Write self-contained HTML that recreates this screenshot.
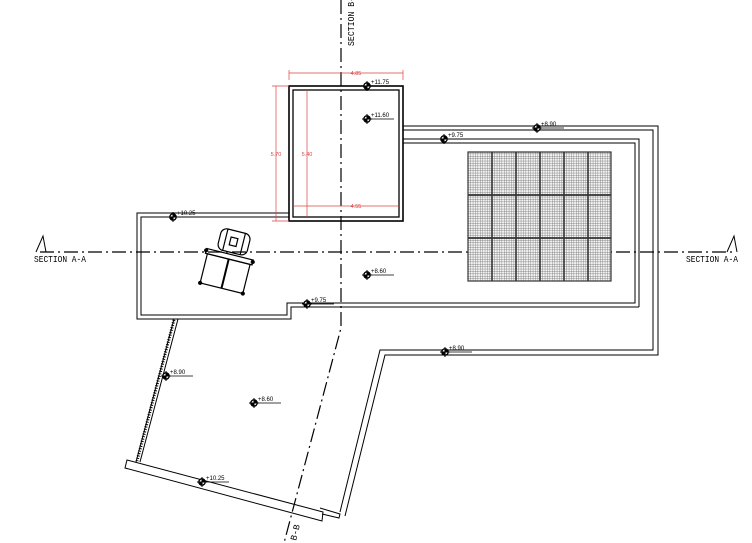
<!DOCTYPE html>
<html><head><meta charset="utf-8"><style>
html,body{margin:0;padding:0;background:#fff;}
svg{display:block;}
text{font-family:"Liberation Sans",sans-serif;}
</style></head><body>
<svg width="752" height="543" viewBox="0 0 752 543" xmlns="http://www.w3.org/2000/svg">
<defs>
<pattern id="grid" width="2.4" height="2.4" patternUnits="userSpaceOnUse">
<rect width="2.4" height="2.4" fill="#f4f4f4"/>
<path d="M0 0H2.4M0 0V2.4" stroke="#666" stroke-width="0.7"/>
</pattern>
<g id="lv">
<circle cx="0" cy="0" r="3.2" fill="#fff" stroke="#000" stroke-width="1.3"/>
<path d="M-5 0H5M0 -5V5" stroke="#000" stroke-width="1"/>
<path d="M0 -3A3 3 0 0 1 3 0L0 0Z M0 3A3 3 0 0 1 -3 0L0 0Z" fill="#000"/>
<line x1="3" y1="0" x2="27" y2="0" stroke="#000" stroke-width="0.8"/>
</g>
</defs>

<g stroke="#000" stroke-width="1.2" fill="none" stroke-dasharray="14,4,2,4">
<line x1="40" y1="252" x2="735" y2="252"/>
<path d="M341 0 V328 L284 543"/>
</g>

<g stroke="#000" stroke-width="1" fill="none">
<path d="M36 252 L43 236 L46 252"/>
<path d="M727 252 L734 236 L737 252"/>
<rect x="289" y="86" width="114" height="135" stroke-width="1.6"/>
<rect x="293" y="90" width="106" height="127" stroke-width="1.3"/>
<path d="M289 213 H137 V319 H291 V307 H639"/>
<path d="M289 217 H141 V315 H287 V303 H635 V143 H403"/>
<path d="M639 307 V139 H403"/>
<path d="M403 126 H658 V355 H385 L345 516"/>
<path d="M403 130 H653 V350 H380 L340 512"/>
<path d="M178 319 L140 462"/>
<path d="M174 319 L136 462"/>
<path d="M127 460 L323 512 L322 521 L125 468 Z"/>
<path d="M320 508 L340 514 L339 518 L322 514"/>
</g>
<path d="M174 320 L137 461" stroke="#000" stroke-width="3" stroke-dasharray="1,1.5" fill="none"/>

<g stroke="#333" stroke-width="1.2">
<rect x="468" y="152" width="143" height="129" fill="url(#grid)"/>
<path d="M492 152V281M516 152V281M540 152V281M564 152V281M588 152V281" stroke-width="1.6"/>
<path d="M468 195H611M468 238H611" stroke-width="1.8"/>
</g>

<g stroke="#d44" stroke-width="0.7" fill="none">
<path d="M289 73H403M289 70V80M403 70V80"/>
<path d="M276 86V221M272 86H289M272 221H289"/>
<path d="M307 90V217"/>
<path d="M293 206H399"/>
</g>
<g font-size="5.5" text-anchor="middle">
<text x="356" y="75" fill="#d44">4.85</text>
<text x="276" y="156" fill="#d44">5.70</text>
<text x="307" y="156" fill="#d44">5.40</text>
<text x="356" y="208" fill="#d44">4.55</text>
</g>

<g transform="translate(228,262) rotate(14)" stroke="#000" fill="none" stroke-width="1.2">
<rect x="-14" y="-32" width="30" height="22" rx="6"/>
<path d="M-8 -32V-10M10 -32V-10"/>
<rect x="-3" y="-25" width="7" height="8"/>
<rect x="-24" y="-8" width="48" height="5"/>
<rect x="-22" y="-3" width="44" height="30"/>
<path d="M0 -3V27" stroke-width="2"/>
<circle cx="-24" cy="-6" r="1.5" fill="#000"/><circle cx="24" cy="-6" r="1.5" fill="#000"/>
<circle cx="-22" cy="27" r="1.5" fill="#000"/><circle cx="22" cy="27" r="1.5" fill="#000"/>
</g>

<use href="#lv" x="367" y="86"/><use href="#lv" x="367" y="119"/>
<use href="#lv" x="444" y="139"/><use href="#lv" x="537" y="128"/>
<use href="#lv" x="173" y="217"/><use href="#lv" x="367" y="275"/>
<use href="#lv" x="307" y="304"/><use href="#lv" x="445" y="352"/>
<use href="#lv" x="166" y="376"/><use href="#lv" x="254" y="403"/>
<use href="#lv" x="202" y="482"/>
<g font-size="6" fill="#000">
<text x="371" y="84">+11.75</text><text x="371" y="117">+11.60</text>
<text x="448" y="137">+9.75</text><text x="541" y="126">+8.90</text>
<text x="177" y="215">+10.25</text><text x="371" y="273">+8.60</text>
<text x="311" y="302">+9.75</text><text x="449" y="350">+8.90</text>
<text x="170" y="374">+8.90</text><text x="258" y="401">+8.60</text>
<text x="206" y="480">+10.25</text>
</g>

<g font-size="9" fill="#000" style="font-family:'Liberation Mono',monospace">
<text x="34" y="262" textLength="52" lengthAdjust="spacingAndGlyphs" style="font-family:'Liberation Mono',monospace">SECTION A-A</text>
<text x="686" y="262" textLength="52" lengthAdjust="spacingAndGlyphs" style="font-family:'Liberation Mono',monospace">SECTION A-A</text>
<text transform="translate(354,46) rotate(-90)" textLength="54" lengthAdjust="spacingAndGlyphs" style="font-family:'Liberation Mono',monospace">SECTION B-B</text>
<text transform="translate(296,541) rotate(-76)" style="font-family:'Liberation Mono',monospace">B-B</text>
</g>
</svg>
</body></html>
